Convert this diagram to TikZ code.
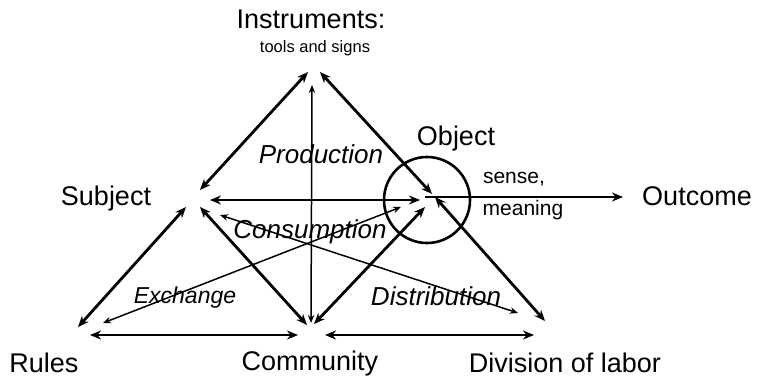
\documentclass[tikz,border=0pt]{standalone}
\usepackage{fontspec}
\setmainfont{Liberation Sans}
\usetikzlibrary{arrows.meta}
\tikzset{
  big/.style={font=\fontsize{27}{30}\selectfont, inner sep=0pt, anchor=base},
  small/.style={font=\fontsize{21}{24}\selectfont, inner sep=0pt, anchor=base},
  tiny/.style={font=\fontsize{16.5}{18}\selectfont, inner sep=0pt, anchor=base},
  proc/.style={font=\fontsize{26}{28}\selectfont\itshape, inner sep=0pt, anchor=base},
  thickarr/.style={line width=2.8pt, {Stealth[length=11pt,width=9pt]}-{Stealth[length=11pt,width=9pt]}},
  onearr/.style={line width=2.8pt, -{Stealth[length=11pt,width=9pt]}},
  thinarr/.style={line width=1.5pt, {Stealth[length=8pt,width=6.5pt]}-{Stealth[length=8pt,width=6.5pt]}},
}
\begin{document}
\begin{tikzpicture}[x=1pt,y=1pt,yscale=-1]
\useasboundingbox[fill=white] (0,0) rectangle (758,380);

% labels
\node[big] (instr) at (311,28) {Instruments:};
\node[tiny] (tools) at (315,52) {tools and signs};
\node[big] (subj) at (106,205) {Subject};
\node[big] (obj) at (456,145) {Object};
\node[small] (sense) at (514,183) {sense,};
\node[small] (mean) at (523,215) {meaning};
\node[big] (outc) at (697,205) {Outcome};
\node[big] (rules) at (44,372) {Rules};
\node[big] (comm) at (310,370) {Community};
\node[big] (div) at (565,372) {Division of labor};
\node[proc] (prod) at (321,163) {Production};
\node[proc] (cons) at (310,238) {Consumption};
\node[proc, font=\fontsize{23}{25}\selectfont\itshape] (exch) at (185,303) {Exchange};
\node[proc] (distr) at (436,305) {Distribution};

% circle around object
\node[draw, circle, line width=2.6pt, minimum size=86pt, inner sep=0pt] (objc) at (427,200) {};

% coordinates
\coordinate (SIa) at (200,190);  \coordinate (SIb) at (308,72);
\coordinate (IOa) at (320,72);   \coordinate (IOb) at (432,194);
\coordinate (SOa) at (210,200);  \coordinate (SOb) at (420,200);
\coordinate (Oo)  at (425,197);  \coordinate (Out) at (623,197);
\coordinate (SRa) at (186,207);  \coordinate (SRb) at (78,327);
\coordinate (SCa) at (200,207);  \coordinate (SCb) at (307,325);
\coordinate (OCa) at (425,207);  \coordinate (OCb) at (314,324);
\coordinate (ODa) at (435,197);  \coordinate (ODb) at (545,321);
\coordinate (ICa) at (312,85);   \coordinate (ICb) at (311,323);
\coordinate (EXa) at (103,323);  \coordinate (EXb) at (401,207);
\coordinate (DSa) at (220,215);  \coordinate (DSb) at (518,313);
\coordinate (RCa) at (90,335);   \coordinate (RCb) at (298,335);
\coordinate (CDa) at (325,335);  \coordinate (CDb) at (534,335);

% connectors
\draw[thickarr] (SIa) -- (SIb);
\draw[thickarr] (IOa) -- (IOb);
\draw[thickarr] (SOa) -- (SOb);
\draw[onearr] (Oo) -- (Out);
\draw[thickarr] (SRa) -- (SRb);
\draw[thickarr] (SCa) -- (SCb);
\draw[thickarr] (OCa) -- (OCb);
\draw[thickarr] (ODa) -- (ODb);
\draw[thinarr] (ICa) -- (ICb);
\draw[thinarr] (EXa) -- (EXb);
\draw[thinarr] (DSa) -- (DSb);
\draw[thickarr] (RCa) -- (RCb);
\draw[thickarr] (CDa) -- (CDb);
\end{tikzpicture}
\end{document}
